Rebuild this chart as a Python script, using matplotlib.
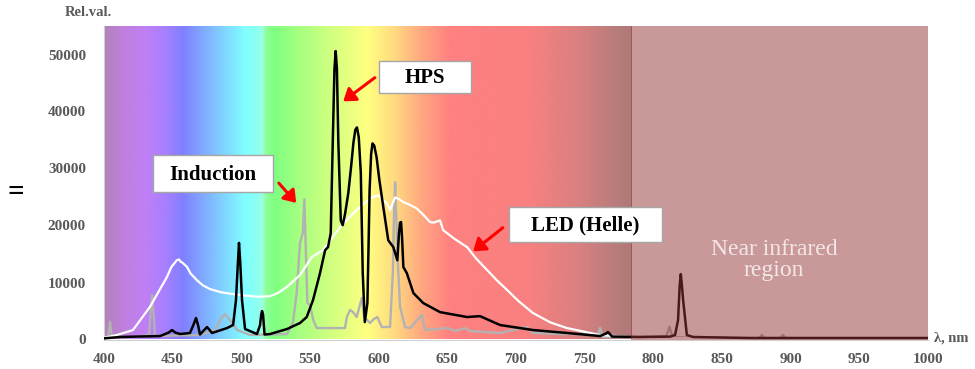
import numpy as np
import matplotlib
matplotlib.use("Agg")
import matplotlib.pyplot as plt
from matplotlib.colors import LinearSegmentedColormap, to_rgb
from matplotlib.patches import Rectangle, FancyArrowPatch

# ---------------- data ----------------
led_nm = [400, 409.5, 421.1, 433.5, 445.9, 449, 451, 453, 454.6, 456, 457, 460.4, 463, 467.7,
          472, 477.2, 485, 494, 503, 511.4, 520.9, 527, 533.3, 542.7, 551.5, 559.7, 566,
          571.9, 578, 584, 590, 595, 599.8, 602, 605.9, 608.3, 611.9, 615, 618, 622,
          627.7, 632, 637.4, 640, 644.7, 646.9, 655, 664.4, 671, 678.9, 686, 693.5, 702,
          712.4, 725, 737.2, 761.2, 783.1, 850, 1000]
led_val = [300, 800, 1660, 5740, 11000, 12700, 13300, 13900, 14050, 13600, 13500, 12750, 11600, 10400,
           9500, 8850, 8300, 7970, 7700, 7500, 7600, 8200, 9250, 11300, 14500, 15700, 17800,
           19700, 21300, 22700, 24000, 24900, 25300, 24800, 23900, 22700, 24950, 24600, 24100, 23700,
           23000, 22000, 20600, 20500, 20900, 19200, 17700, 16200, 14200, 12200, 10400, 8700, 6700,
           4640, 3000, 2000, 790, 440, 100, 0]

hps_nm = [400, 411.7, 421.1, 440.8, 447, 449.5, 452, 455.4, 462.6, 465, 467, 468.5, 469.9, 475,
          478.7, 489.6, 494, 496.1, 497.5, 498.3, 499.2, 500.5, 502.7, 511.4, 513.6, 514.5,
          515.1, 515.8, 516.9, 520.9, 533.3, 542.7, 547.6, 552.2, 557.3, 561, 563.1, 565.1,
          566.6, 567.8, 568.7, 569.6, 570.6, 572.4, 573.8, 575.5, 577.9, 580, 581.6, 583,
          584.2, 585.5, 587, 588.4, 589.9, 591.8, 592.6, 593.4, 594.5, 595.5, 596.8, 598.5,
          600.5, 603.4, 607, 610.7, 613.6, 614.8, 615.6, 616.3, 617, 618, 620.5, 625.3, 632.5,
          644.7, 664.4, 673.8, 688.4, 712.4, 737.2, 761.2, 765.6, 767, 770, 790, 812.2, 815.8,
          818, 819.2, 820, 820.8, 821.7, 824.4, 829, 870.5, 1000]
hps_val = [200, 440, 500, 600, 1200, 1660, 1200, 960, 1140, 2500, 3770, 2500, 880, 2190,
           1140, 2010, 2540, 6900, 13500, 16950, 13500, 6900, 1840, 960, 2500, 4400,
           4990, 4400, 880, 960, 1840, 2890, 3940, 6920, 11650, 15670, 16200, 18650,
           34900, 47500, 50600, 47500, 34900, 20900, 20050, 22000, 25700, 30500, 34500, 36800,
           37200, 35500, 29200, 11650, 3060, 6390, 16000, 26200, 32500, 34400, 34000, 31960,
           28000, 23200, 17400, 16200, 13900, 18650, 20500, 20600, 18000, 12700, 11650, 8140, 6390,
           4800, 3940, 4100, 2540, 1660, 1140, 610, 1050, 1300, 520, 440, 500, 790,
           3400, 9500, 11470, 9500, 6900, 790, 440, 260, 260]

ind_nm = [400, 402.9, 404.4, 405.8, 426.2, 432.8, 434.2, 435, 435.8, 437.1, 469.9, 480.8,
          485, 488.1, 491, 496.9, 506.3, 533.3, 537.6, 540.3, 542.7, 544.7, 545.9, 547.1,
          548.1, 550, 552.4, 554.9, 575.5, 576.8, 579.2, 581.4, 584, 587.7, 589.4, 593.7,
          596.5, 599, 602.3, 608.3, 610.3, 611.2, 612, 612.8, 613.6, 615.6, 619.2, 622.9,
          631.4, 633.8, 650.5, 655.6, 662.9, 666.6, 688.4, 708.1, 712.4, 732.1, 759.8, 761.2,
          763.4, 790, 809.5, 811.7, 814, 834, 877, 879, 881, 892.4, 894.3, 896.5, 1000]
ind_val = [350, 440, 3120, 440, 440, 900, 5500, 7800, 5500, 610, 790, 1660,
           3600, 4470, 3600, 1660, 790, 960, 3000, 8140, 16900, 18650, 24600, 14450,
           6390, 6040, 3410, 2010, 2010, 3940, 5170, 4800, 3940, 7270, 3940, 2890,
           3600, 3940, 2190, 2190, 11650, 22000, 27580, 22000, 15150, 5690, 2190, 2010,
           4290, 1660, 2010, 1490, 2010, 1490, 1140, 2190, 1140, 960, 960, 2010,
           440, 440, 600, 2240, 440, 260, 260, 790, 260, 260, 790, 260, 260]

x_ticks = [400, 450, 500, 550, 600, 650, 700, 750, 800, 850, 900, 950, 1000]
y_ticks = [0, 10000, 20000, 30000, 40000, 50000]

# spectrum background stops
spec_nm = [400, 415, 430, 444, 457.5, 477, 502.7, 512, 515, 518, 524.5, 542.7, 564.6,
           591.5, 612, 630, 652, 710, 747, 776, 784]
spec_col = ['#b383bb', '#c07fdf', '#c07ff5', '#a87fff', '#8080ff', '#80b8ff', '#80ffff',
            '#8cfff0', '#a0ffe0', '#8cff98', '#80ff80', '#a8ff80', '#d0ff80',
            '#ffff80', '#ffd880', '#ffaa80', '#ff8080', '#f88080', '#d88080', '#b47b7b', '#b07878']

W, H = 975, 369
fig = plt.figure(figsize=(W / 100, H / 100), dpi=100)
fig.patch.set_facecolor('white')
ax = fig.add_axes([104 / W, 1 - 339.5 / H, 824 / W, (339.5 - 26) / H])

def fx(px):
    return px / W

def fy(py):
    return 1 - py / H

# spectrum gradient
lo, hi = spec_nm[0], spec_nm[-1]
cmap = LinearSegmentedColormap.from_list(
    'spec', [((s - lo) / (hi - lo), to_rgb(c)) for s, c in zip(spec_nm, spec_col)], N=1024)
grad = np.linspace(0, 1, 1024).reshape(1, -1)
ax.imshow(grad, cmap=cmap, aspect='auto', extent=[lo, hi, 0, 55000], zorder=0,
          interpolation='bilinear')

ax.plot(ind_nm, ind_val, color='#b2b2b2', lw=1.7, zorder=2, solid_joinstyle='round')
ax.plot(led_nm, led_val, color='white', lw=1.6, zorder=3, solid_joinstyle='round')
ax.plot(hps_nm, hps_val, color='black', lw=1.8, zorder=4, solid_joinstyle='round')

# near infrared overlay
ax.axvspan(784, 1000, facecolor=(148 / 255, 52 / 255, 52 / 255), alpha=0.5, lw=0, zorder=5)
ax.text(fx(774), fy(260), 'Near infrared\nregion', transform=fig.transFigure,
        ha='center', va='center', fontsize=17, color='#f4e6e6',
        family='Liberation Serif', linespacing=1.0, zorder=6)

ax.set_xlim(400, 1000)
ax.set_ylim(0, 55000)
ax.set_xticks(x_ticks)
ax.set_yticks(y_ticks)
ax.set_xticklabels([str(v) for v in x_ticks])
ax.set_yticklabels([str(v) for v in y_ticks])
for lab in ax.get_xticklabels() + ax.get_yticklabels():
    lab.set_fontfamily('Liberation Serif')
    lab.set_fontweight('bold')
    lab.set_fontsize(11)
    lab.set_color('#595959')
ax.tick_params(axis='both', length=0)
ax.tick_params(axis='x', pad=10)
ax.tick_params(axis='y', pad=13)
for s in ['top', 'right']:
    ax.spines[s].set_visible(False)
for s in ['left', 'bottom']:
    ax.spines[s].set_color('#d0d0d0')
    ax.spines[s].set_linewidth(0.8)

fig.text(fx(88), fy(12), 'Rel.val.', ha='center', va='center', fontsize=10.5,
         family='Liberation Serif', fontweight='bold', color='#595959')
fig.text(fx(934), fy(338), 'λ, nm', ha='left', va='center', fontsize=10.5,
         family='Liberation Serif', fontweight='bold', color='#595959')
fig.text(fx(15.5), fy(192), '=', ha='center', va='center', fontsize=21,
         family='Liberation Serif', fontweight='bold', color='black')

# annotation boxes (pixel positions)
boxes = [
    ('Induction', 153, 155, 273, 192, (277, 181), (298, 205)),
    ('HPS', 379, 61, 471, 93, (377, 76), (341, 103)),
    ('LED (Helle)', 509, 207, 662, 242, (505, 226), (471, 253)),
]
for label, x0, y0, x1, y1, a0, a1 in boxes:
    r = Rectangle((fx(x0), fy(y1)), fx(x1) - fx(x0), fy(y0) - fy(y1),
                  transform=fig.transFigure, facecolor='white', edgecolor='#a6a6a6',
                  lw=1.0, zorder=7)
    fig.patches.append(r)
    fig.text(fx((x0 + x1) / 2), fy((y0 + y1) / 2 + 1), label, ha='center', va='center',
             fontsize=15, family='Liberation Serif', fontweight='bold', color='black',
             zorder=8)
    arr = FancyArrowPatch((fx(a0[0]), fy(a0[1])), (fx(a1[0]), fy(a1[1])),
                          transform=fig.transFigure, arrowstyle='-|>,head_length=0.5,head_width=0.35',
                          mutation_scale=14, color='#ff0000', lw=2.2, zorder=8)
    fig.patches.append(arr)

fig.savefig('out.png', dpi=100)
